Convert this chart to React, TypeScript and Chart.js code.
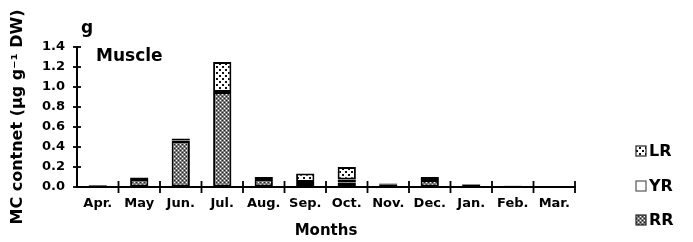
import React, { useEffect, useRef } from "react";
import { Chart, registerables } from "chart.js";

Chart.register(...registerables);

const months = ["Apr.", "May", "Jun.", "Jul.", "Aug.", "Sep.", "Oct.", "Nov.", "Dec.", "Jan.", "Feb.", "Mar."];
const rrValues = [0.017, 0.08, 0.46, 0.95, 0.08, 0.02, 0.045, 0.028, 0.07, 0.025, 0.012, 0];
const yrValues = [0, 0, 0.005, 0, 0, 0.03, 0.03, 0, 0, 0, 0, 0];
const lrValues = [0.004, 0.015, 0.02, 0.30, 0.02, 0.085, 0.125, 0.006, 0.03, 0.005, 0.002, 0];
const yTicks = [0, 0.2, 0.4, 0.6, 0.8, 1.0, 1.2, 1.4];

const FONT = "'DejaVu Sans', 'Liberation Sans', Arial, sans-serif";

function makePattern(kind: string): CanvasPattern | string {
  const c = document.createElement("canvas");
  const ctx = c.getContext("2d")!;
  if (kind === "RR") {
    c.width = 4; c.height = 4;
    ctx.fillStyle = "#7c7c7c"; ctx.fillRect(0, 0, 4, 4);
    ctx.fillStyle = "#ffffff"; ctx.fillRect(0, 0, 1, 1); ctx.fillRect(2, 2, 1, 1);
    ctx.fillStyle = "#222222"; ctx.fillRect(2, 0, 1, 1); ctx.fillRect(0, 2, 1, 1);
  } else {
    c.width = 6; c.height = 6;
    ctx.fillStyle = "#ffffff"; ctx.fillRect(0, 0, 6, 6);
    ctx.fillStyle = "#111111"; ctx.fillRect(0, 0, 2, 2); ctx.fillRect(3, 3, 2, 2);
  }
  return ctx.createPattern(c, "repeat") || "#888";
}

const extrasPlugin = {
  id: "extras",
  afterDraw(chart: any) {
    const { ctx, scales } = chart;
    const x = scales.x, y = scales.y;
    ctx.save();
    ctx.strokeStyle = "#000";
    ctx.lineWidth = 1.8;
    // crossing tick marks
    y.ticks.forEach((_t: any, i: number) => {
      const py = y.getPixelForTick(i);
      ctx.beginPath(); ctx.moveTo(x.left - 4, py); ctx.lineTo(x.left + 4, py); ctx.stroke();
    });
    for (let i = 1; i <= months.length; i++) {
      const px = x.getPixelForValue(i - 0.5);
      ctx.beginPath(); ctx.moveTo(px, y.bottom - 6); ctx.lineTo(px, y.bottom + 6); ctx.stroke();
    }
    // panel letter and tissue label
    ctx.fillStyle = "#000";
    ctx.textBaseline = "alphabetic";
    ctx.textAlign = "left";
    ctx.font = `bold 17px ${FONT}`;
    ctx.fillText("g", 81, 33);
    ctx.font = `bold 17px ${FONT}`;
    ctx.fillText("Muscle", 96, 61);
    // legend (top to bottom: LR, YR, RR)
    const order = [2, 1, 0];
    const rowsY = [151, 186, 220];
    ctx.font = `bold 16px ${FONT}`;
    ctx.textBaseline = "middle";
    order.forEach((di, k) => {
      const ds = chart.data.datasets[di];
      const cy = rowsY[k];
      ctx.fillStyle = ds.backgroundColor;
      ctx.fillRect(636, cy - 5, 10, 10);
      ctx.lineWidth = 1.2;
      ctx.strokeStyle = k === 1 ? "#555" : "#222";
      ctx.strokeRect(636, cy - 5, 10, 10);
      ctx.fillStyle = "#000";
      ctx.fillText(ds.label, 649, cy + 1);
    });
    ctx.restore();
  },
};

export default function App() {
  const ref = useRef<HTMLCanvasElement | null>(null);
  useEffect(() => {
    if (!ref.current) return;
    const rrFill = makePattern("RR");
    const lrFill = makePattern("LR");
    const common = { borderColor: "#000", borderWidth: 2, categoryPercentage: 1, barPercentage: 0.44, borderSkipped: false };
    const chart = new Chart(ref.current, {
      type: "bar",
      data: {
        labels: months,
        datasets: [
          { label: "RR", data: rrValues, backgroundColor: rrFill as any, ...common },
          { label: "YR", data: yrValues, backgroundColor: "#ffffff", ...common },
          { label: "LR", data: lrValues, backgroundColor: lrFill as any, ...common },
        ],
      },
      options: {
        animation: false,
        responsive: false,
        maintainAspectRatio: false,
        layout: { padding: { top: 47, right: 118, left: 0, bottom: 0 } },
        plugins: { legend: { display: false }, tooltip: { enabled: false } },
        scales: {
          x: {
            stacked: true,
            offset: true,
            afterFit: (s: any) => { s.height = 55; },
            grid: { display: true, offset: true, drawOnChartArea: false, tickLength: 5, color: "rgba(0,0,0,0)" },
            border: { display: true, color: "#000", width: 2 },
            ticks: { color: "#000", font: { family: FONT, size: 13, weight: "bold" }, padding: 4, maxRotation: 0, autoSkip: false },
            title: { display: true, text: "Months", color: "#000", font: { family: FONT, size: 15, weight: "bold" }, padding: { top: 0, bottom: 2 } },
          },
          y: {
            stacked: true,
            min: 0,
            max: 1.4,
            afterFit: (s: any) => { s.width = 77; },
            afterBuildTicks: (s: any) => { s.ticks = yTicks.map((v) => ({ value: v })); },
            grid: { display: true, drawOnChartArea: false, tickLength: 4, color: "rgba(0,0,0,0)" },
            border: { display: true, color: "#000", width: 2 },
            ticks: { color: "#000", font: { family: FONT, size: 13, weight: "bold" }, padding: 8, callback: (v: any) => Number(v).toFixed(1) },
            title: { display: true, text: "MC contnet (μg g⁻¹ DW)", color: "#000", font: { family: FONT, size: 16, weight: "bold" }, padding: { top: 8, bottom: 0 } },
          },
        },
      },
      plugins: [extrasPlugin],
    });
    return () => chart.destroy();
  }, []);
  return (
    <div style={{ position: "fixed", left: 0, top: 0, width: 693, height: 242, background: "#fff" }}>
      <canvas ref={ref} width={693} height={242} style={{ width: 693, height: 242, display: "block" }} />
    </div>
  );
}
